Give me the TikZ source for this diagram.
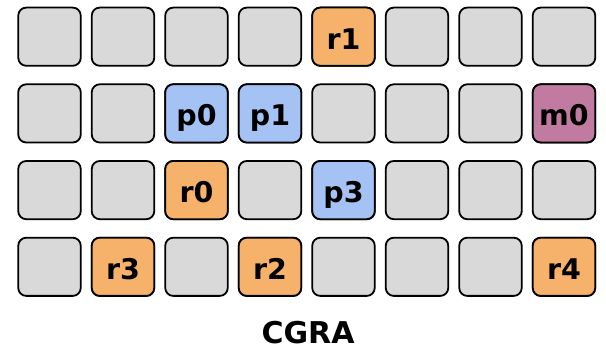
\documentclass[tikz,border=0pt]{standalone}
\usepackage{fontspec}
\setmainfont{DejaVu Sans}
\definecolor{cgray}{HTML}{D9D9D9}
\definecolor{corange}{HTML}{F6B26B}
\definecolor{cblue}{HTML}{A4C2F4}
\definecolor{cmauve}{HTML}{C27BA0}
\begin{document}
\begin{tikzpicture}[x=1pt,y=1pt,
  cell/.style={draw=black, line width=1.8pt, rounded corners=8pt, minimum width=62.5pt, minimum height=58.2pt, inner sep=0pt, fill=cgray},
  lbl/.style={font=\bfseries\fontsize{28.5}{28.5}\selectfont, anchor=base, inner sep=0pt},
  ttl/.style={font=\bfseries\fontsize{30}{30}\selectfont, anchor=base, inner sep=0pt}]
\useasboundingbox (0,0) rectangle (606,-347);
\foreach \r in {0,...,3}{
  \foreach \c in {0,...,7}{
    \node[cell] (c\r\c) at ({49.5+73.5*\c},{-(36.7+76.7*\r)}) {};
  }
}
% colored cells
\node[cell, fill=corange] (r1) at ({49.5+73.5*4},{-(36.7+76.7*0)}) {};
\node[cell, fill=cblue] (p0) at ({49.5+73.5*2},{-(36.7+76.7*1)}) {};
\node[cell, fill=cblue] (p1) at ({49.5+73.5*3},{-(36.7+76.7*1)}) {};
\node[cell, fill=cmauve] (m0) at ({49.5+73.5*7},{-(36.7+76.7*1)}) {};
\node[cell, fill=corange] (r0) at ({49.5+73.5*2},{-(36.7+76.7*2)}) {};
\node[cell, fill=cblue] (p3) at ({49.5+73.5*4},{-(36.7+76.7*2)}) {};
\node[cell, fill=corange] (r3) at ({49.5+73.5*1},{-(36.7+76.7*3)}) {};
\node[cell, fill=corange] (r2) at ({49.5+73.5*3},{-(36.7+76.7*3)}) {};
\node[cell, fill=corange] (r4) at ({49.5+73.5*7},{-(36.7+76.7*3)}) {};
% labels
\foreach \n/\t in {r1/r1,p0/p0,p1/p1,m0/m0,r0/r0,p3/p3,r3/r3,r2/r2,r4/r4}{
  \node[lbl] (t\n) at ([yshift=-12.5pt]\n.center) {\t};
}
\node[ttl] (cgra) at (308,-343.3) {CGRA};
\end{tikzpicture}
\end{document}
